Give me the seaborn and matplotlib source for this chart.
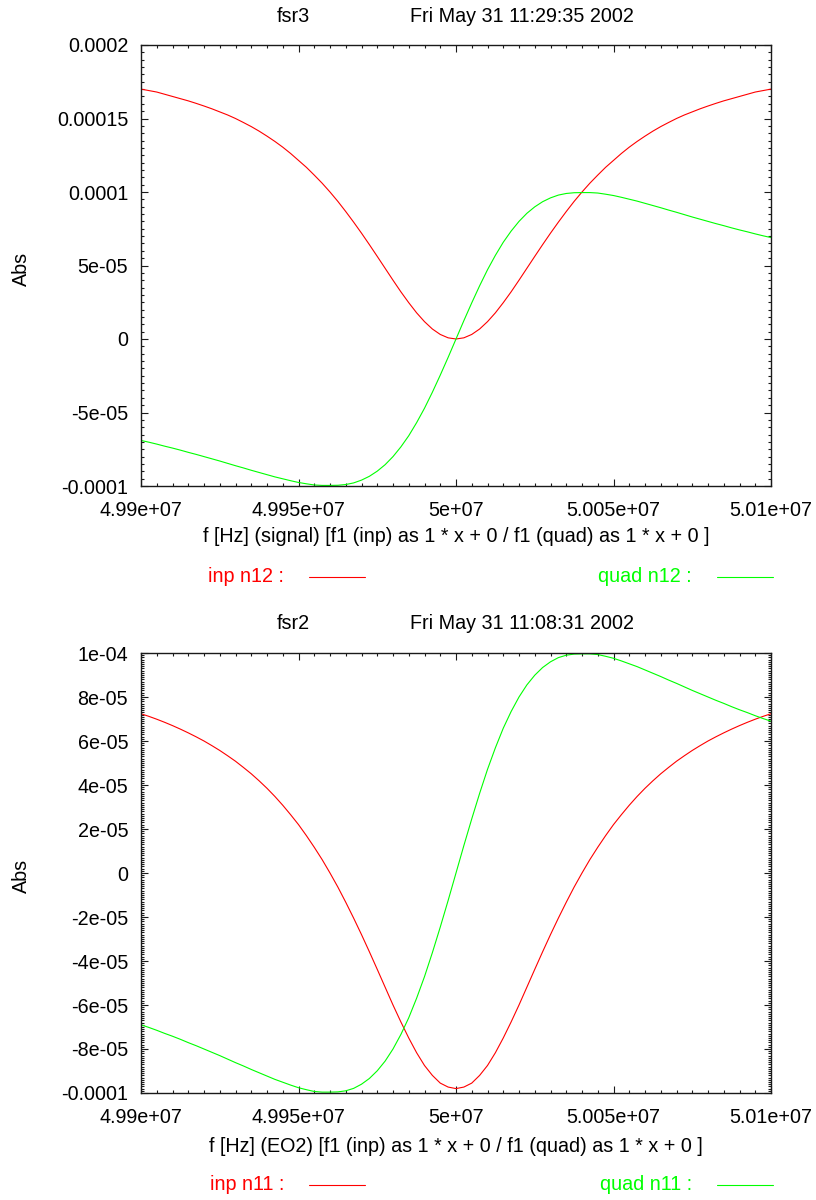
import numpy as np
import pandas as pd
import matplotlib
matplotlib.use("Agg")
import matplotlib.pyplot as plt
from matplotlib.lines import Line2D
from matplotlib.ticker import FixedLocator, FixedFormatter, MultipleLocator
import seaborn as sns

# ---------------------------------------------------------------- data
# frequency grid [kHz], 2.5 kHz steps across the resonance
freq_khz = [
    49900.0, 49902.5, 49905.0, 49907.5, 49910.0, 49912.5, 49915.0, 49917.5,
    49920.0, 49922.5, 49925.0, 49927.5, 49930.0, 49932.5, 49935.0, 49937.5,
    49940.0, 49942.5, 49945.0, 49947.5, 49950.0, 49952.5, 49955.0, 49957.5,
    49960.0, 49962.5, 49965.0, 49967.5, 49970.0, 49972.5, 49975.0, 49977.5,
    49980.0, 49982.5, 49985.0, 49987.5, 49990.0, 49992.5, 49995.0, 49997.5,
    50000.0,
    50002.5, 50005.0, 50007.5, 50010.0, 50012.5, 50015.0, 50017.5, 50020.0,
    50022.5, 50025.0, 50027.5, 50030.0, 50032.5, 50035.0, 50037.5, 50040.0,
    50042.5, 50045.0, 50047.5, 50050.0, 50052.5, 50055.0, 50057.5, 50060.0,
    50062.5, 50065.0, 50067.5, 50070.0, 50072.5, 50075.0, 50077.5, 50080.0,
    50082.5, 50085.0, 50087.5, 50090.0, 50092.5, 50095.0, 50097.5, 50100.0,
]

# amplitudes in units of 1e-5
inp_n12 = [
    17.0, 16.9, 16.8, 16.65, 16.5, 16.35, 16.2, 16.03, 15.85, 15.66,
    15.45, 15.24, 15.0, 14.73, 14.45, 14.14, 13.8, 13.44, 13.05, 12.62,
    12.15, 11.68, 11.15, 10.6, 10.0, 9.36, 8.67, 7.95, 7.2, 6.42,
    5.62, 4.81, 4.0, 3.21, 2.47, 1.78, 1.18, 0.68, 0.31, 0.08,
    0.0,
    0.08, 0.31, 0.68, 1.18, 1.78, 2.47, 3.21, 4.0, 4.81, 5.62,
    6.42, 7.2, 7.95, 8.67, 9.36, 10.0, 10.6, 11.15, 11.68, 12.15,
    12.62, 13.05, 13.44, 13.8, 14.14, 14.45, 14.73, 15.0, 15.24, 15.45,
    15.66, 15.85, 16.03, 16.2, 16.35, 16.5, 16.65, 16.8, 16.9, 17.0,
]
quad_n12 = [
    -6.9, -7.02, -7.15, -7.29, -7.42, -7.56, -7.71, -7.85, -8.0, -8.15,
    -8.3, -8.46, -8.62, -8.77, -8.93, -9.08, -9.23, -9.38, -9.51, -9.64,
    -9.76, -9.85, -9.93, -9.96, -9.96, -9.95, -9.9, -9.79, -9.6, -9.34,
    -8.99, -8.55, -8.0, -7.34, -6.58, -5.69, -4.71, -3.62, -2.46, -1.25,
    0.0,
    1.25, 2.46, 3.62, 4.71, 5.69, 6.58, 7.34, 8.0, 8.55, 8.99,
    9.34, 9.6, 9.79, 9.9, 9.95, 9.96, 9.96, 9.93, 9.85, 9.76,
    9.64, 9.51, 9.38, 9.23, 9.08, 8.93, 8.77, 8.62, 8.46, 8.3,
    8.15, 8.0, 7.85, 7.71, 7.56, 7.42, 7.29, 7.15, 7.02, 6.9,
]
inp_n11 = [
    7.24, 7.12, 6.99, 6.85, 6.7, 6.54, 6.37, 6.19, 6.0, 5.79,
    5.57, 5.33, 5.08, 4.8, 4.51, 4.19, 3.85, 3.48, 3.08, 2.65,
    2.2, 1.7, 1.17, 0.61, 0.0, -0.64, -1.33, -2.05, -2.8, -3.58,
    -4.38, -5.19, -6.0, -6.77, -7.5, -8.17, -8.75, -9.2, -9.55, -9.73,
    -9.8,
    -9.73, -9.55, -9.2, -8.75, -8.17, -7.5, -6.77, -6.0, -5.19, -4.38,
    -3.58, -2.8, -2.05, -1.33, -0.64, 0.0, 0.61, 1.17, 1.7, 2.2,
    2.65, 3.08, 3.48, 3.85, 4.19, 4.51, 4.8, 5.08, 5.33, 5.57,
    5.79, 6.0, 6.19, 6.37, 6.54, 6.7, 6.85, 6.99, 7.12, 7.24,
]
quad_n11 = [
    -6.9, -7.02, -7.15, -7.29, -7.42, -7.56, -7.71, -7.85, -8.0, -8.15,
    -8.3, -8.46, -8.62, -8.77, -8.93, -9.08, -9.23, -9.38, -9.51, -9.64,
    -9.76, -9.85, -9.93, -9.96, -9.96, -9.95, -9.9, -9.79, -9.6, -9.34,
    -8.99, -8.55, -8.0, -7.34, -6.58, -5.69, -4.71, -3.62, -2.46, -1.25,
    0.0,
    1.25, 2.46, 3.62, 4.71, 5.69, 6.58, 7.34, 8.0, 8.55, 8.99,
    9.34, 9.6, 9.79, 9.9, 9.95, 9.96, 9.96, 9.93, 9.85, 9.76,
    9.64, 9.51, 9.38, 9.23, 9.08, 8.93, 8.77, 8.62, 8.46, 8.3,
    8.15, 8.0, 7.85, 7.71, 7.56, 7.42, 7.29, 7.15, 7.02, 6.9,
]

x_ticks = [4.99e7, 4.995e7, 5.0e7, 5.005e7, 5.01e7]
x_tick_labels = ["4.99e+07", "4.995e+07", "5e+07", "5.005e+07", "5.01e+07"]

y_ticks_top = [2e-4, 1.5e-4, 1e-4, 5e-5, 0.0, -5e-5, -1e-4]
y_tick_labels_top = ["0.0002", "0.00015", "0.0001", "5e-05", "0", "-5e-05",
                     "-0.0001"]
y_ticks_bottom = [1e-4, 8e-5, 6e-5, 4e-5, 2e-5, 0.0, -2e-5, -4e-5, -6e-5,
                  -8e-5, -1e-4]
y_tick_labels_bottom = ["1e-04", "8e-05", "6e-05", "4e-05", "2e-05", "0",
                        "-2e-05", "-4e-05", "-6e-05", "-8e-05", "-0.0001"]

titles_top = ("fsr3", "Fri May 31 11:29:35 2002")
titles_bottom = ("fsr2", "Fri May 31 11:08:31 2002")
xlabel_top = "f [Hz] (signal) [f1 (inp) as 1 * x + 0 / f1 (quad) as 1 * x + 0 ]"
xlabel_bottom = "f [Hz] (EO2) [f1 (inp) as 1 * x + 0 / f1 (quad) as 1 * x + 0 ]"
legend_top = ("inp n12 :", "quad n12 :")
legend_bottom = ("inp n11 :", "quad n11 :")

RED = "#ff0000"
GREEN = "#00ff00"
INK = "#1a1a1a"
LW = 0.8

# ---------------------------------------------------------------- style
sns.set_theme(style="white")
plt.rcParams["font.family"] = ["Liberation Sans", "DejaVu Sans"]
plt.rcParams["axes.edgecolor"] = INK
plt.rcParams["axes.linewidth"] = 1.0

W, H = 816, 1200
fig = plt.figure(figsize=(W / 100, H / 100), dpi=100)
FS = 14.2


def fx(px):
    return px / W


def fy(py):
    return 1 - py / H


def make_axes(top_px, bottom_px):
    return fig.add_axes([fx(141), fy(bottom_px), fx(771) - fx(141),
                         (bottom_px - top_px) / H])


def draw_panel(ax, inp, quad, yticks, ylabels, ymin, ymax, yminor):
    df = pd.DataFrame({"f": np.asarray(freq_khz) * 1e3,
                       "inp": np.asarray(inp) * 1e-5,
                       "quad": np.asarray(quad) * 1e-5})
    sns.lineplot(data=df, x="f", y="inp", color=RED, lw=LW, ax=ax,
                 legend=False, sort=False)
    sns.lineplot(data=df, x="f", y="quad", color=GREEN, lw=LW, ax=ax,
                 legend=False, sort=False)
    ax.set_xlim(4.99e7, 5.01e7)
    ax.set_ylim(ymin, ymax)
    ax.xaxis.set_major_locator(FixedLocator(x_ticks))
    ax.xaxis.set_major_formatter(FixedFormatter(x_tick_labels))
    ax.xaxis.set_minor_locator(MultipleLocator(5e3))
    ax.yaxis.set_major_locator(FixedLocator(yticks))
    ax.yaxis.set_major_formatter(FixedFormatter(ylabels))
    ax.yaxis.set_minor_locator(MultipleLocator(yminor))
    ax.tick_params(which="both", direction="in", top=True, right=True,
                   bottom=True, left=True, color=INK, width=0.8,
                   labelsize=FS, labelcolor="black")
    ax.tick_params(which="major", length=5.2)
    ax.tick_params(which="minor", length=2.5)
    ax.tick_params(axis="y", which="major", pad=9.2)
    ax.tick_params(axis="x", which="major", pad=11.0)
    ax.set_xlabel("")
    ax.set_ylabel("")
    for s in ax.spines.values():
        s.set_visible(True)
        s.set_color(INK)


def annotate(titles, title_base, xlabel, xlabel_y, abs_y, legend, leg_y):
    fig.text(fx(277), fy(title_base), titles[0], ha="left", va="baseline",
             fontsize=FS, color="black")
    fig.text(fx(634), fy(title_base), titles[1], ha="right", va="baseline",
             fontsize=FS, color="black")
    fig.text(fx(456), fy(xlabel_y), xlabel, ha="center", va="center",
             fontsize=FS, color="black")
    fig.text(fx(21), fy(abs_y), "Abs", ha="center", va="center",
             rotation=90, fontsize=FS, color="black")
    fig.text(fx(284), fy(leg_y), legend[0], ha="right", va="center",
             fontsize=FS, color=RED)
    fig.text(fx(692), fy(leg_y), legend[1], ha="right", va="center",
             fontsize=FS, color=GREEN)
    fig.add_artist(Line2D([fx(309), fx(365)], [fy(leg_y), fy(leg_y)],
                          transform=fig.transFigure, color=RED, lw=LW))
    fig.add_artist(Line2D([fx(717), fx(773)], [fy(leg_y), fy(leg_y)],
                          transform=fig.transFigure, color=GREEN, lw=LW))


ax_top = make_axes(45, 486)
draw_panel(ax_top, inp_n12, quad_n12, y_ticks_top, y_tick_labels_top,
           -1e-4, 2e-4, 5e-6)
annotate(titles_top, 22, xlabel_top, 537, 269, legend_top, 577)

ax_bot = make_axes(653, 1093)
draw_panel(ax_bot, inp_n11, quad_n11, y_ticks_bottom, y_tick_labels_bottom,
           -1e-4, 1e-4, 1e-6)
annotate(titles_bottom, 629, xlabel_bottom, 1146, 876, legend_bottom, 1185)

fig.savefig("out.png", dpi=100, facecolor="white")
